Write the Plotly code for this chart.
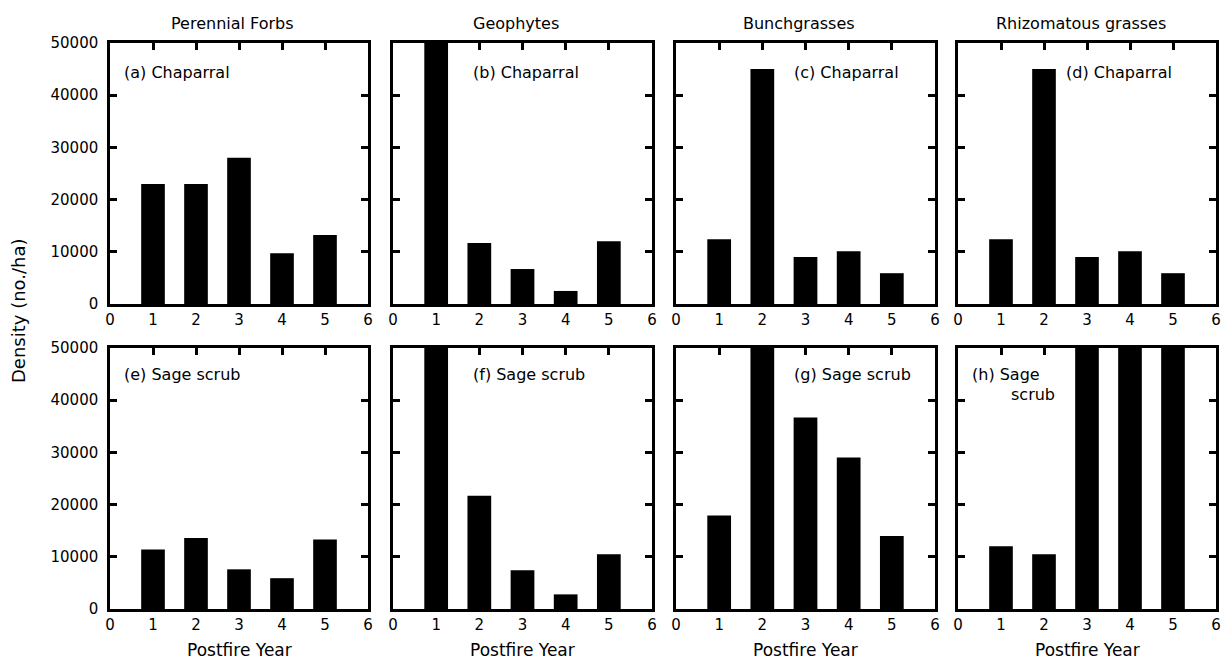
import plotly.graph_objects as go

# Postfire years (x positions of the bars)
years = [1, 2, 3, 4, 5]

# Column headings (growth forms)
growth_forms = ["Perennial Forbs", "Geophytes", "Bunchgrasses", "Rhizomatous grasses"]

# Densities (no./ha); values above 50000 run off the top of the axis
chaparral_forbs = [23000, 23000, 28000, 9700, 13200]
chaparral_geophytes = [62000, 11700, 6700, 2500, 12000]
chaparral_bunch = [12400, 45000, 9000, 10100, 5900]
chaparral_rhizo = [12400, 45000, 9000, 10100, 5900]

sage_forbs = [11400, 13600, 7600, 5900, 13300]
sage_geophytes = [62000, 21700, 7400, 2800, 10500]
sage_bunch = [17900, 62000, 36700, 29000, 14000]
sage_rhizo = [12000, 10500, 62000, 62000, 62000]

panel_labels = ["(a) Chaparral", "(b) Chaparral", "(c) Chaparral", "(d) Chaparral",
                "(e) Sage scrub", "(f) Sage scrub", "(g) Sage scrub", "(h) Sage"]
y_ticks = [0, 10000, 20000, 30000, 40000, 50000]
x_ticks = [0, 1, 2, 3, 4, 5, 6]

W, H = 1223, 660
col_px = [(110, 368), (393, 652), (676, 935), (958, 1216)]
row_px = [(43, 304), (348, 609)]
# left edge of each panel label, as a fraction of its panel width
label_x = [0.046, 0.30, 0.446, 0.41, 0.046, 0.30, 0.446, 0.046]

series = [chaparral_forbs, chaparral_geophytes, chaparral_bunch, chaparral_rhizo,
          sage_forbs, sage_geophytes, sage_bunch, sage_rhizo]

FONT = "DejaVu Sans"
fig = go.Figure()
layout = dict(
    width=W, height=H, margin=dict(l=0, r=0, t=0, b=0, autoexpand=False),
    paper_bgcolor="white", plot_bgcolor="white", showlegend=False,
    font=dict(family=FONT, size=13, color="black"),
    annotations=[],
)

for i, vals in enumerate(series):
    r, c = divmod(i, 4)
    n = i + 1
    xa = "xaxis" if n == 1 else f"xaxis{n}"
    ya = "yaxis" if n == 1 else f"yaxis{n}"
    xr = "x" if n == 1 else f"x{n}"
    yr = "y" if n == 1 else f"y{n}"
    fig.add_trace(go.Bar(x=years, y=vals, width=0.55, marker=dict(color="black", line=dict(width=0)),
                         xaxis=xr, yaxis=yr))
    x0, x1 = col_px[c]
    t, b = row_px[r]
    layout[xa] = dict(domain=[x0 / W, x1 / W], range=[0, 6], tickvals=x_ticks,
                      ticks="inside", ticklen=7, tickwidth=2.5, tickcolor="black",
                      showline=True, linecolor="black", linewidth=2.5, mirror="ticks",
                      showgrid=False, zeroline=False, anchor=yr, automargin=False,
                      ticklabeloverflow="allow",
                      tickfont=dict(family=FONT, size=15))
    layout[ya] = dict(domain=[1 - b / H, 1 - t / H], range=[0, 50000], tickvals=y_ticks,
                      tickformat="d", ticks="inside", ticklen=7, tickwidth=2.5, tickcolor="black",
                      showline=True, linecolor="black", linewidth=2.5, mirror="ticks",
                      showgrid=False, zeroline=False, anchor=xr, automargin=False,
                      showticklabels=(c == 0), ticklabelstandoff=6,
                      tickfont=dict(family=FONT, size=15))
    ly = 72 if r == 0 else 374
    layout["annotations"].append(dict(text=panel_labels[i], xref=f"{xr} domain", x=label_x[i],
                                      yref="paper", y=1 - ly / H, xanchor="left", yanchor="middle",
                                      showarrow=False, font=dict(family=FONT, size=16)))
    if i == 7:
        layout["annotations"].append(dict(text="scrub", xref=f"{xr} domain", x=0.196,
                                          yref="paper", y=1 - 394 / H, xanchor="left",
                                          yanchor="middle", showarrow=False,
                                          font=dict(family=FONT, size=16)))
    if r == 0:
        layout["annotations"].append(dict(text=growth_forms[c], xref="paper", x=(x0 + x1) / 2 / W - 0.005,
                                          yref="paper", y=1 - 23 / H, xanchor="center",
                                          yanchor="middle", showarrow=False,
                                          font=dict(family=FONT, size=16)))
    else:
        layout["annotations"].append(dict(text="Postfire Year", xref="paper", x=(x0 + x1) / 2 / W,
                                          yref="paper", y=1 - 650 / H, xanchor="center",
                                          yanchor="middle", showarrow=False,
                                          font=dict(family=FONT, size=17)))

layout["annotations"].append(dict(text="Density (no./ha)", xref="paper", x=18 / W, yref="paper",
                                  y=1 - 311 / H, textangle=-90, xanchor="center", yanchor="middle",
                                  showarrow=False, font=dict(family=FONT, size=18)))

fig.update_layout(**layout)
fig.write_html("out.html")
